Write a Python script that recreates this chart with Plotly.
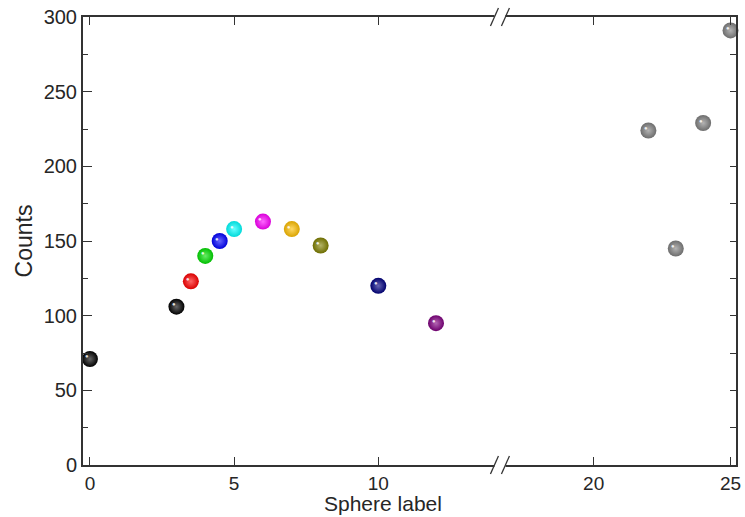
import plotly.graph_objects as go

# Data
left_x = [0, 3, 3.5, 4, 4.5, 5, 6, 7, 8, 10, 12]
left_y = [71, 106, 123, 140, 150, 158, 163, 158, 147, 120, 95]
left_colors = ["#000000", "#000000", "#ff0000", "#00e000", "#0000ff", "#00ffff",
               "#ff00ff", "#ffc000", "#808000", "#000080", "#800080"]
right_x = [22, 23, 24, 25]
right_y = [224, 145, 229, 291]
right_colors = ["#808080"] * 4

x_ticks_left = [0, 5, 10]
x_ticks_right = [20, 25]
y_ticks = [0, 50, 100, 150, 200, 250, 300]

FONT = "Liberation Sans, Arial, sans-serif"
TXT = "#262626"
AX = "#333333"

def hex2rgb(h):
    h = h.lstrip("#")
    return tuple(int(h[i:i + 2], 16) for i in (0, 2, 4))

def mix(h, other, t):
    r = hex2rgb(h)
    return "rgb(%d,%d,%d)" % tuple(round(a + (b - a) * t) for a, b in zip(r, other))

def center_col(h):
    return mix(h, (255, 255, 255), 0.4)

def edge_col(h):
    return mix(h, (0, 0, 0), 0.15)

fig = go.Figure()

fig.add_trace(go.Scatter(
    x=left_x, y=left_y, mode="markers", xaxis="x", yaxis="y", cliponaxis=False,
    marker=dict(size=16, color=[edge_col(c) for c in left_colors],
                gradient=dict(type="radial", color=[center_col(c) for c in left_colors]),
                line=dict(width=0)),
    showlegend=False, hoverinfo="x+y"))
fig.add_trace(go.Scatter(
    x=right_x, y=right_y, mode="markers", xaxis="x2", yaxis="y2", cliponaxis=False,
    marker=dict(size=16, color=[edge_col(c) for c in right_colors],
                gradient=dict(type="radial", color=[center_col(c) for c in right_colors]),
                line=dict(width=0)),
    showlegend=False, hoverinfo="x+y"))

# specular highlights
for xs, ys, xr, yr in [(left_x, left_y, "x", "y"), (right_x, right_y, "x2", "y2")]:
    for xv, yv in zip(xs, ys):
        fig.add_annotation(x=xv, y=yv, xref=xr, yref=yr, text="●", showarrow=False,
                           xshift=-2.5, yshift=2.5,
                           font=dict(size=6, color="rgba(255,255,255,0.85)"))

brk = (502 - 83) / 657.0

common_x = dict(showline=True, linecolor=AX, linewidth=2, mirror="allticks",
                ticks="inside", ticklen=8, tickwidth=1, tickcolor=AX,
                showgrid=False, zeroline=False, ticklabeloverflow="allow",
                tickfont=dict(family=FONT, size=19, color=TXT))

fig.update_layout(
    width=745, height=517,
    margin=dict(l=83, r=4, t=17, b=52),
    paper_bgcolor="white", plot_bgcolor="white",
    xaxis=dict(domain=[0, brk], range=[-0.24, 14.2], tickvals=x_ticks_left,
               anchor="y", **common_x),
    xaxis2=dict(domain=[brk, 1], range=[16.56, 25.2], tickvals=x_ticks_right,
                anchor="y2", **common_x),
    yaxis=dict(domain=[0, 1], range=[0, 300], tickvals=y_ticks, anchor="x",
               showline=True, linecolor=AX, linewidth=2, ticks="inside", ticklen=9,
               tickcolor=AX, showgrid=False, zeroline=False,
               minor=dict(ticks="inside", ticklen=5, tickcolor=AX, dtick=25, tick0=0, showgrid=False),
               tickfont=dict(family=FONT, size=20, color=TXT),
               title=dict(text="Counts", font=dict(family=FONT, size=23, color=TXT), standoff=5)),
    yaxis2=dict(domain=[0, 1], range=[0, 300], anchor="x2", matches="y", side="right",
                showline=True, linecolor=AX, linewidth=2, ticks="inside", ticklen=6,
                tickcolor=AX, dtick=25, tick0=0, showticklabels=False,
                showgrid=False, zeroline=False),
)

fig.add_annotation(text="Sphere label", xref="paper", yref="paper", x=(385 - 83) / 657.0, y=0,
                   yshift=-38, yanchor="middle", showarrow=False,
                   font=dict(family=FONT, size=21, color=TXT))

# axis-break marks: gap in the line plus two slashes
for yy in (0, 1):
    fig.add_shape(type="rect", xref="paper", yref="paper", x0=brk, x1=brk, y0=yy, y1=yy,
                  xsizemode="pixel", ysizemode="pixel", xanchor=brk, yanchor=yy,
                  fillcolor="white", line=dict(width=0))
    fig.layout.shapes[-1].update(x0=-5, x1=6, y0=-2, y1=2)
    for c in (-5, 6):
        fig.add_shape(type="line", xref="paper", yref="paper",
                      x0=brk, x1=brk, y0=yy, y1=yy,
                      xsizemode="pixel", ysizemode="pixel", xanchor=brk, yanchor=yy,
                      line=dict(color=AX, width=1.3))
        fig.layout.shapes[-1].update(x0=c - 4, x1=c + 4, y0=-9, y1=9)

fig.write_html("out.html")
